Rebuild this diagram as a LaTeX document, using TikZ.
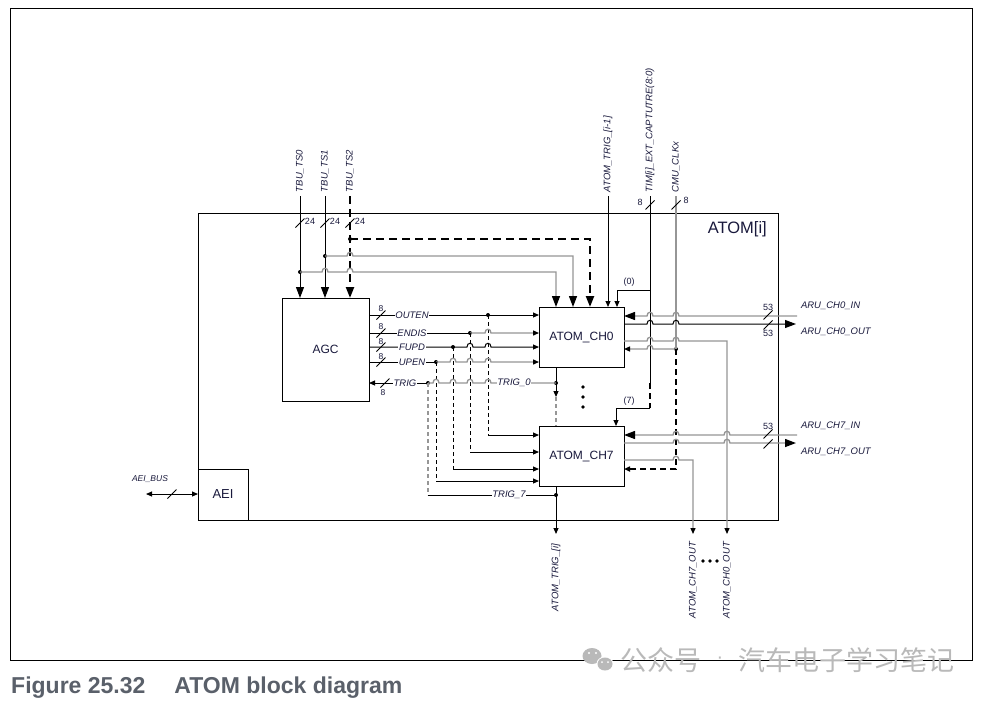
\documentclass[tikz,border=0pt]{standalone}
\usepackage{fontspec}
\setmainfont{Liberation Sans}
\newfontfamily\cjk{Noto Sans CJK SC}
\usetikzlibrary{arrows.meta}
\definecolor{gline}{RGB}{150,150,150}
\definecolor{lbl}{RGB}{25,25,60}
\definecolor{capc}{RGB}{90,96,106}
\definecolor{wm}{RGB}{185,185,185}
\tikzset{
  TipBig/.tip={Triangle[length=11pt,width=8pt]},
  TipBigK/.tip={Triangle[length=11pt,width=8pt,color=black]},
  TipSm/.tip={Triangle[length=6pt,width=5pt]},
  TipSmK/.tip={Triangle[length=6pt,width=5pt,color=black]},
}
% jump over a vertical line, drawn left-to-right / right-to-left
\newcommand\J[2]{-- ({#1-3},#2) .. controls ({#1-3},{#2-5}) and ({#1+3},{#2-5}) .. ({#1+3},#2)}
\newcommand\JL[2]{-- ({#1+3},#2) .. controls ({#1+3},{#2-5}) and ({#1-3},{#2-5}) .. ({#1-3},#2)}
\newcommand\Sl[2]{\draw[sig] ({#1-4.5},{#2+4.5}) -- ({#1+4.5},{#2-4.5});}
\begin{document}
\begin{tikzpicture}[x=1pt,y=-1pt,
  sig/.style={draw=black,line width=1pt},
  gsig/.style={draw=gline,line width=1.3pt},
  tdash/.style={line width=2.2pt,dash pattern=on 8pt off 5pt},
  mdash/.style={line width=1.5pt,dash pattern=on 6pt off 4pt},
  sdash/.style={dash pattern=on 4pt off 3pt},
  box/.style={draw,line width=1pt,inner sep=0pt,outer sep=0pt,anchor=north west,text=lbl,font=\fontsize{12}{14}\selectfont},
  lab/.style={text=lbl,inner sep=0.8pt,font=\fontsize{9.5}{11}\selectfont\itshape},
  num/.style={text=lbl,inner sep=0.5pt,font=\fontsize{9}{10}\selectfont},
  jdot/.style={circle,fill=black,inner sep=0pt,minimum size=4pt},
  sdot/.style={circle,fill=black,inner sep=0pt,minimum size=3.6pt},
]
\useasboundingbox (0,0) rectangle (988,702);
\fill[white] (0,0) rectangle (988,702);

% outer frame
\node[draw,line width=1pt,inner sep=0pt,outer sep=0pt,anchor=north west,minimum width=962pt,minimum height=652pt] (frame) at (10,8) {};

% blocks
\node[box,minimum width=580pt,minimum height=307pt] (atom) at (198,213) {};
\node[text=lbl,anchor=east,inner sep=0pt,font=\fontsize{16.5}{18}\selectfont] (atomlbl) at (767,229) {ATOM[i]};
\node[box,minimum width=87pt,minimum height=103pt] (agc) at (282,298) {AGC};
\node[box,minimum width=85pt,minimum height=60pt] (ch0) at (539,307) {ATOM\_CH0};
\node[box,minimum width=85pt,minimum height=60pt] (ch7) at (539,426) {ATOM\_CH7};
\node[box,minimum width=50pt,minimum height=51pt,font=\fontsize{13}{15}\selectfont] (aei) at (198,469) {AEI};

% top labels
\node[lab,rotate=90,anchor=west] (lts0) at (300,193) {TBU\_TS0};
\node[lab,rotate=90,anchor=west] (lts1) at (325,193) {TBU\_TS1};
\node[lab,rotate=90,anchor=west] (lts2) at (350,193) {TBU\_TS2};
\node[lab,rotate=90,anchor=west] (ltrg) at (608,193) {ATOM\_TRIG\_[i-1]};
\node[lab,rotate=90,anchor=west] (ltim) at (650,193) {TIM[i]\_EXT\_CAPTUTRE(8:0)};
\node[lab,rotate=90,anchor=west] (lcmu) at (676,193) {CMU\_CLKx};

% sources
\coordinate (ts0) at (300,196);
\coordinate (ts1) at (325,196);
\coordinate (ts2) at (350,196);
\coordinate (atin) at (608,196);
\coordinate (tim) at (650,196);
\coordinate (cmu) at (676,196);

% TBU time stamps into AGC
\draw[sig,-TipBig] (ts0) -- (agc.north -| ts0);
\draw[sig,-TipBig] (ts1) -- (agc.north -| ts1);
\draw[sig,tdash,-TipBig] (ts2) -- (agc.north -| ts2);
\Sl{300}{223} \Sl{325}{223} \Sl{350}{223}
\node[num] (n24a) at (310,221) {24};
\node[num] (n24b) at (335,221) {24};
\node[num] (n24c) at (360,221) {24};

% TBU branches into ATOM_CH0
\node[jdot] (j0) at (300,272) {};
\node[jdot] (j1) at (325,256) {};
\node[jdot] (j2) at (350,239) {};
\draw[gsig,-TipBigK] (j0.center) \J{325}{272} \J{350}{272} -- (556,272) -- (ch0.north -| 556,0);
\draw[gsig,-TipBigK] (j1.center) \J{350}{256} -- (573,256) -- (ch0.north -| 573,0);
\draw[sig,tdash,-TipBig] (j2.center) -- (590,239) -- (ch0.north -| 590,0);

% ATOM_TRIG_[i-1]
\draw[sig,-TipSm] (atin) -- (ch0.north -| atin);

% TIM capture
\coordinate (timb) at (650,383);
\coordinate (timc) at (650,408);
\draw[sig] (tim) -- (timb);
\Sl{650}{205}
\node[num] (n8t) at (640,202) {8};
\draw[sig,-TipSm] (650,290) -- (617,290) -- (ch0.north -| 617,0);
\node[num] (l0) at (629,282) {(0)};
\draw[sig,mdash] (timb) -- (timc);
\draw[sig,-TipSm] (timc) -- (616,408) -- (ch7.north -| 616,0);
\node[num] (l7) at (629,401) {(7)};

% CMU clocks
\node[jdot] (jc) at (676,349) {};
\draw[gsig] (cmu) -- (jc.center);
\Sl{676}{205}
\node[num] (n8c) at (686,200) {8};
\draw[gsig,-TipSmK] (jc.center) \JL{650}{349} -- (ch0.east |- jc);
\draw[sig,mdash,-TipSm] (jc.center) -- (676,469) -- (ch7.east |- 0,469);

% ARU channel 0
\coordinate (aruin0) at (797,316);
\coordinate (aruout0) at (796,324);
\draw[gsig,-TipBigK] (aruin0) \JL{676}{316} \JL{650}{316} -- (ch0.east |- 0,316);
\draw[sig,-TipBig] (ch0.east |- 0,324) \J{650}{324} \J{676}{324} -- (aruout0);
\Sl{768}{315} \Sl{768}{325}
\node[num] (n53a) at (768,307) {53};
\node[num] (n53b) at (768,333) {53};
\node[lab,anchor=west] (laruin0) at (800,306) {ARU\_CH0\_IN};
\node[lab,anchor=west] (laruout0) at (800,332) {ARU\_CH0\_OUT};
\coordinate (o0) at (727,534);
\draw[gsig,-TipSmK] (ch0.east |- 0,341) \J{650}{341} \J{676}{341} -- (727,341) -- (o0);

% ARU channel 7
\coordinate (aruin7) at (797,435);
\coordinate (aruout7) at (796,443);
\draw[gsig,-TipBigK] (aruin7) \JL{727}{435} \JL{676}{435} -- (ch7.east |- 0,435);
\draw[gsig,-TipBigK] (ch7.east |- 0,443) \J{676}{443} \J{727}{443} -- (aruout7);
\Sl{768}{434} \Sl{768}{444}
\node[num] (n53c) at (768,426) {53};
\node[lab,anchor=west] (laruin7) at (800,426) {ARU\_CH7\_IN};
\node[lab,anchor=west] (laruout7) at (800,452) {ARU\_CH7\_OUT};
\coordinate (o7) at (693,534);
\draw[gsig,-TipSmK] (ch7.east |- 0,460) \J{676}{460} -- (693,460) -- (o7);

% AGC -> channels
\node[jdot] (jo) at (488,315) {};
\node[jdot] (je) at (470,333) {};
\node[jdot] (jf) at (453,347) {};
\node[jdot] (ju) at (436,362) {};
\node[jdot] (jt) at (428,383) {};
\node[jdot] (jt0) at (556,383) {};
\node[jdot] (jt7) at (556,495) {};

\draw[sig,-TipSm] (agc.east |- jo) -- (ch0.west |- jo);
\draw[sig,sdash] (jo.center) -- (488,435);
\draw[sig,-TipSm] (488,435) -- (ch7.west |- 0,435);

\draw[sig] (agc.east |- je) -- (je.center);
\draw[gsig,-TipSmK] (je.center) \J{488}{333} -- (ch0.west |- je);
\draw[sig,sdash] (je.center) -- (470,452);
\draw[sig,-TipSm] (470,452) -- (ch7.west |- 0,452);

\draw[sig,-TipSm] (agc.east |- jf) -- (jf.center) \J{470}{347} \J{488}{347} -- (ch0.west |- jf);
\draw[sig,sdash] (jf.center) -- (453,469);
\draw[sig,-TipSm] (453,469) -- (ch7.west |- 0,469);

\draw[sig] (agc.east |- ju) -- (ju.center);
\draw[gsig,-TipSmK] (ju.center) \J{453}{362} \J{470}{362} \J{488}{362} -- (ch0.west |- ju);
\draw[sig,sdash] (ju.center) -- (436,481);
\draw[sig,-TipSm] (436,481) -- (ch7.west |- 0,481);

% TRIG back to AGC
\draw[gsig] (jt.center) \J{436}{383} \J{453}{383} \J{470}{383} \J{488}{383} -- (jt0.center);
\draw[sig,-TipSm] (jt.center) -- (agc.east |- jt);
\draw[gsig,sdash] (jt.center) -- (428,495);
\draw[sig] (428,495) -- (jt7.center);

% channel trigger chain
\draw[sig] (ch0.south -| jt0) -- (jt0.center);
\draw[sig,-TipSm] (jt0.center) -- (556,397);
\draw[gsig,sdash] (556,397) -- (ch7.north -| jt0);
\draw[sig] (ch7.south -| jt7) -- (jt7.center);
\coordinate (otrg) at (556,534);
\draw[sig,-TipSm] (jt7.center) -- (otrg);

% slashes and labels on AGC buses
\Sl{381}{315} \Sl{381}{333} \Sl{381}{347} \Sl{381}{362} \Sl{385}{383}
\node[num,font=\fontsize{8.5}{10}\selectfont] (n8a) at (381,309) {8};
\node[num,font=\fontsize{8.5}{10}\selectfont] (n8b) at (381,327) {8};
\node[num,font=\fontsize{8.5}{10}\selectfont] (n8c2) at (381,342) {8};
\node[num,font=\fontsize{8.5}{10}\selectfont] (n8d) at (381,357) {8};
\node[num,font=\fontsize{8.5}{10}\selectfont] (n8e) at (383,393) {8};
\node[lab,fill=white] (louten) at (412,315) {OUTEN};
\node[lab,fill=white] (lendis) at (412,333) {ENDIS};
\node[lab,fill=white] (lfupd) at (412,347) {FUPD};
\node[lab,fill=white] (lupen) at (412,362) {UPEN};
\node[lab,fill=white] (ltrig) at (405,383) {TRIG};
\node[lab,fill=white] (ltrig0) at (514,383) {TRIG\_0};
\node[lab,fill=white] (ltrig7) at (509,495) {TRIG\_7};

% channel dots
\node[sdot] (v1) at (583,387) {};
\node[sdot] (v2) at (583,397) {};
\node[sdot] (v3) at (583,407) {};

% AEI bus
\coordinate (aeibus) at (146,494);
\draw[sig,TipSm-TipSm] (aeibus) -- (aei.west |- aeibus);
\Sl{172}{494}
\node[lab,font=\fontsize{8.5}{10}\selectfont\itshape] (laei) at (150,479) {AEI\_BUS};

% bottom labels
\node[lab,rotate=90,anchor=east] (lotrg) at (556,543) {ATOM\_TRIG\_[i]};
\node[lab,rotate=90,anchor=east] (lo7) at (693,541) {ATOM\_CH7\_OUT};
\node[lab,rotate=90,anchor=east] (lo0) at (727,541) {ATOM\_CH0\_OUT};
\node[sdot] (h1) at (703,561) {};
\node[sdot] (h2) at (710,561) {};
\node[sdot] (h3) at (717,561) {};

% caption
\node[anchor=base west,inner sep=0pt,text=capc,font=\fontsize{23}{26}\selectfont\bfseries] (cap) at (11,693) {Figure 25.32\hspace{29pt}ATOM block diagram};

% watermark
\fill[wm] (592,656) ellipse[x radius=9.5pt,y radius=8pt];
\fill[white] (605,664) ellipse[x radius=8.5pt,y radius=7.5pt];
\fill[wm] (605,664) ellipse[x radius=7.5pt,y radius=6.5pt];
\fill[white] (589,653) circle[radius=1.2pt] (596,653) circle[radius=1.2pt];
\fill[white] (602,662) circle[radius=1pt] (608,662) circle[radius=1pt];
\node[anchor=west,inner sep=0pt,text=wm,font=\cjk\fontsize{27}{30}\selectfont] (wm1) at (620,660) {公众号};
\node[inner sep=0pt,text=wm,font=\fontsize{20}{22}\selectfont] (wm2) at (720,660) {·};
\node[anchor=east,inner sep=0pt,text=wm,font=\cjk\fontsize{27}{30}\selectfont] (wm3) at (955,660) {汽车电子学习笔记};
\end{tikzpicture}
\end{document}
